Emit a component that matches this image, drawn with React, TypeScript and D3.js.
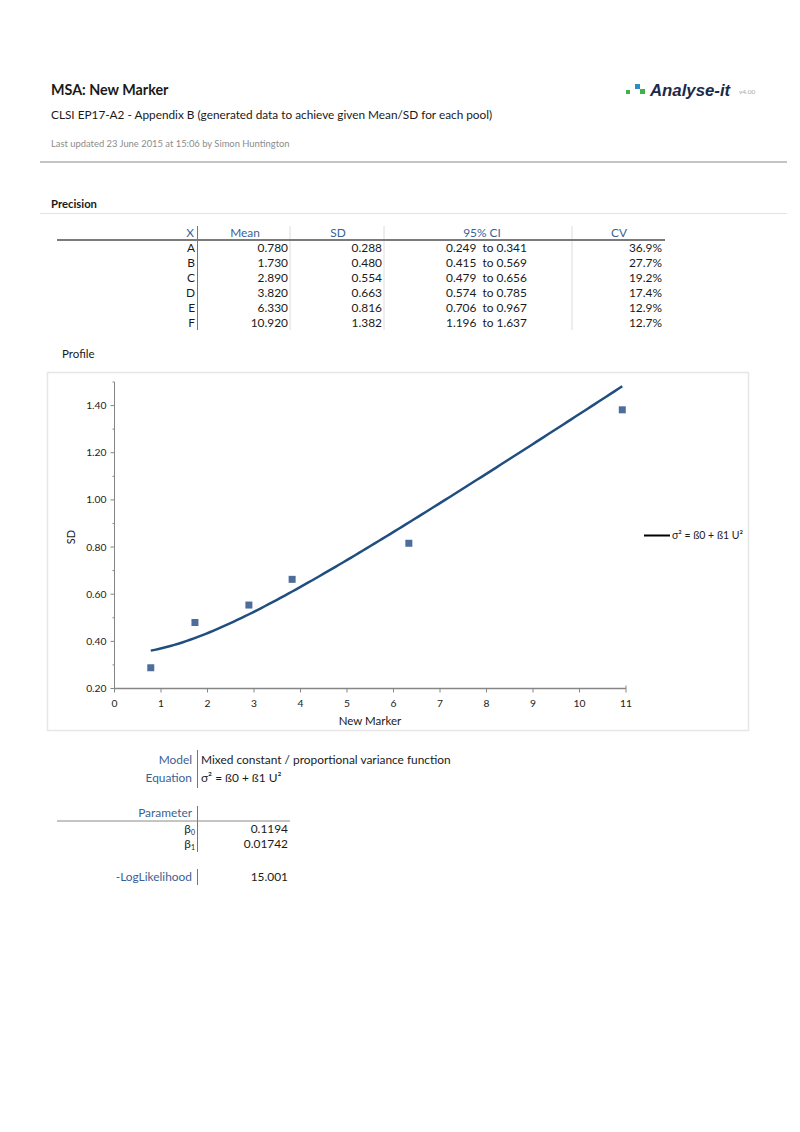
import React from "react";
import * as d3 from "d3";

const categories = ["A", "B", "C", "D", "E", "F"];
const means = [0.78, 1.73, 2.89, 3.82, 6.33, 10.92];
const sds = [0.288, 0.48, 0.554, 0.663, 0.816, 1.382];
const ciLow = [0.249, 0.415, 0.479, 0.574, 0.706, 1.196];
const ciHigh = [0.341, 0.569, 0.656, 0.785, 0.967, 1.637];
const cvs = [36.9, 27.7, 19.2, 17.4, 12.9, 12.7];
const betas = [0.1194, 0.01742];
const logLik = "15.001";
const xTicks = [0, 1, 2, 3, 4, 5, 6, 7, 8, 9, 10, 11];
const yTicks = [0.2, 0.4, 0.6, 0.8, 1.0, 1.2, 1.4];
const yMinor = [0.3, 0.5, 0.7, 0.9, 1.1, 1.3, 1.5];

const FONT = "Lato, 'Open Sans', sans-serif";
const BLUE = "#3b5f95";
const TXT = "#1a1a1a";

export default function App() {
  const x = d3.scaleLinear().domain([0, 11]).range([114.5, 626]);
  const y = d3.scaleLinear().domain([0.2, 1.5]).range([688.5, 382]);

  const uMin = d3.min(means) as number;
  const uMax = d3.max(means) as number;
  const steps = 120;
  const curvePts: [number, number][] = d3.range(steps + 1).map((i) => {
    const u = uMin + ((uMax - uMin) * i) / steps;
    return [u, Math.sqrt(betas[0] + betas[1] * u * u)];
  });
  const line = d3
    .line<[number, number]>()
    .x((d) => x(d[0]))
    .y((d) => y(d[1]));

  const rowY = (i: number) => 252 + i * 15;
  const fs = 11.9;

  return (
    <svg
      width={800}
      height={1132}
      style={{ position: "absolute", left: 0, top: 0, background: "#fff" }}
      fontFamily={FONT}
    >
      <rect x={0} y={0} width={800} height={1132} fill="#fff" />
      {/* Header */}
      <text x={51} y={95} fontSize={14.3} fontWeight="bold" fill={TXT}>
        MSA: New Marker
      </text>
      <rect x={626} y={90} width={4} height={4} fill="#3cb44b" />
      <rect x={635} y={84} width={5} height={5} fill="#2e8bc9" />
      <rect x={640} y={89} width={5} height={5} fill="#3cb44b" />
      <text x={650} y={96} fontSize={16.8} fontWeight="bold" fontStyle="italic" fill="#1b2a49" fontFamily="'Liberation Sans', Arial, sans-serif">
        Analyse-it
      </text>
      <text x={739} y={94} fontSize={6.5} fill="#a8a8a8">
        v4.00
      </text>
      <text x={51} y={119} fontSize={11.8} fill={TXT}>
        CLSI EP17-A2 - Appendix B (generated data to achieve given Mean/SD for each pool)
      </text>
      <text x={51} y={147} fontSize={9.4} fill="#8c8c8c">
        Last updated 23 June 2015 at 15:06 by Simon Huntington
      </text>
      <line x1={40} x2={787} y1={162} y2={162} stroke="#c4c4c4" strokeWidth={2} />

      {/* Precision */}
      <text x={51} y={208} fontSize={11.3} fontWeight="bold" fill={TXT}>
        Precision
      </text>
      <line x1={40} x2={787} y1={213.5} y2={213.5} stroke="#e3e3e3" strokeWidth={1} />

      {/* Table header */}
      <text x={194} y={237} fontSize={fs} textAnchor="end" fill={BLUE}>X</text>
      <text x={245} y={237} fontSize={fs} textAnchor="middle" fill={BLUE}>Mean</text>
      <text x={338} y={237} fontSize={fs} textAnchor="middle" fill={BLUE}>SD</text>
      <text x={482} y={237} fontSize={fs} textAnchor="middle" fill={BLUE}>95% CI</text>
      <text x={619} y={237} fontSize={fs} textAnchor="middle" fill={BLUE}>CV</text>
      {[290, 384, 572].map((sx) => (
        <line key={sx} x1={sx} x2={sx} y1={226} y2={330} stroke="#dcdcdc" strokeWidth={1} />
      ))}
      <line x1={197.5} x2={197.5} y1={226} y2={330} stroke="#777" strokeWidth={1} />
      <line x1={57} x2={665} y1={240} y2={240} stroke="#7a7a7a" strokeWidth={2} />
      {categories.map((c, i) => (
        <g key={c} fontSize={fs} fill={TXT}>
          <text x={195} y={rowY(i)} textAnchor="end">{c}</text>
          <text x={288} y={rowY(i)} textAnchor="end">{means[i].toFixed(3)}</text>
          <text x={382} y={rowY(i)} textAnchor="end">{sds[i].toFixed(3)}</text>
          <text x={446} y={rowY(i)} style={{ whiteSpace: "pre" }}>
            {`${ciLow[i].toFixed(3)}  to ${ciHigh[i].toFixed(3)}`}
          </text>
          <text x={662} y={rowY(i)} textAnchor="end">{cvs[i].toFixed(1)}%</text>
        </g>
      ))}

      {/* Profile */}
      <text x={62} y={358} fontSize={11.5} fill={TXT}>Profile</text>
      <rect x={47.5} y={372.5} width={701} height={358} fill="#fff" stroke="#e6e6e6" strokeWidth={1.5} />

      {/* Y axis */}
      <line x1={x(0)} x2={x(0)} y1={y(1.5)} y2={y(0.2)} stroke="#868686" strokeWidth={1} />
      {yTicks.map((t) => (
        <g key={t}>
          <line x1={x(0) - 4} x2={x(0)} y1={y(t)} y2={y(t)} stroke="#868686" />
          <text x={x(0) - 8} y={y(t) + 3.5} fontSize={10.3} textAnchor="end" fill={TXT}>
            {t.toFixed(2)}
          </text>
        </g>
      ))}
      {yMinor.map((t) => (
        <line key={t} x1={x(0) - 2} x2={x(0)} y1={y(t)} y2={y(t)} stroke="#868686" />
      ))}
      <text
        transform={`translate(${75},${y(0.8) - 10}) rotate(-90)`}
        fontSize={11}
        textAnchor="middle"
        fill={TXT}
      >
        SD
      </text>

      {/* X axis */}
      <line x1={x(0)} x2={x(11)} y1={y(0.2)} y2={y(0.2)} stroke="#868686" strokeWidth={1.5} />
      <line x1={x(11)} x2={x(11)} y1={y(0.2) - 3} y2={y(0.2)} stroke="#868686" />
      {xTicks.map((t) => (
        <g key={t}>
          <line x1={x(t)} x2={x(t)} y1={y(0.2)} y2={y(0.2) + 4} stroke="#868686" />
          <text x={x(t)} y={y(0.2) + 18} fontSize={10.3} textAnchor="middle" fill={TXT}>
            {t}
          </text>
        </g>
      ))}
      <text x={370} y={725} fontSize={11.5} textAnchor="middle" fill={TXT}>
        New Marker
      </text>

      {/* Fit curve */}
      <path d={line(curvePts) || ""} fill="none" stroke="#1f4e7f" strokeWidth={2.5} />

      {/* Points */}
      {means.map((m, i) => (
        <rect key={i} x={x(m) - 3.5} y={y(sds[i]) - 3.5} width={7} height={7} fill="#4f6d9b" />
      ))}

      {/* Legend */}
      <line x1={644} x2={670} y1={535.5} y2={535.5} stroke="#000" strokeWidth={2} />
      <text x={672} y={539} fontSize={10.5} fill={TXT}>
        σ² = ß0 + ß1 U²
      </text>

      {/* Model */}
      <text x={192} y={764} fontSize={fs} textAnchor="end" fill={BLUE}>Model</text>
      <text x={201} y={764} fontSize={fs} fill={TXT}>Mixed constant / proportional variance function</text>
      <text x={192} y={782} fontSize={fs} textAnchor="end" fill={BLUE}>Equation</text>
      <text x={201} y={782} fontSize={fs} fill={TXT}>σ² = ß0 + ß1 U²</text>
      <line x1={197.5} x2={197.5} y1={750} y2={788} stroke="#777" />

      <text x={192} y={817} fontSize={fs} textAnchor="end" fill={BLUE}>Parameter</text>
      <line x1={197.5} x2={197.5} y1={806} y2={852} stroke="#777" />
      <line x1={57} x2={290} y1={821} y2={821} stroke="#8a8a8a" strokeWidth={1} />
      {betas.map((b, i) => (
        <g key={i} fontSize={fs} fill={TXT}>
          <text x={195} y={833 + i * 15} textAnchor="end">
            β<tspan fontSize={7} dy={2}>{i}</tspan>
          </text>
          <text x={288} y={833 + i * 15} textAnchor="end">{String(b)}</text>
        </g>
      ))}
      <text x={192} y={881} fontSize={fs} textAnchor="end" fill={BLUE}>-LogLikelihood</text>
      <line x1={197.5} x2={197.5} y1={869} y2={885} stroke="#777" />
      <text x={288} y={881} fontSize={fs} textAnchor="end" fill={TXT}>{logLik}</text>
    </svg>
  );
}
